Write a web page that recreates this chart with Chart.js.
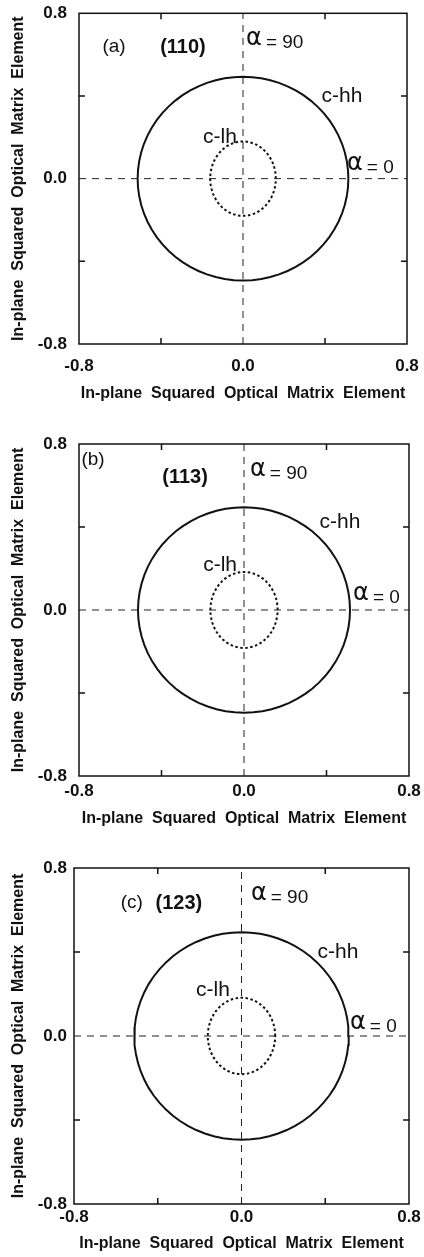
<!DOCTYPE html>
<html><head><meta charset="utf-8">
<script src="https://cdn.jsdelivr.net/npm/chart.js@4.4.0/dist/chart.umd.min.js"></script>
<style>
html,body{margin:0;padding:0;background:#fff;}
#wrap{position:relative;width:424px;height:1257px;overflow:hidden;background:#fff;}
canvas{position:absolute;left:0;}
</style></head><body>
<div id="wrap">
<canvas id="c0" width="424" height="420" style="top:0px"></canvas>
<canvas id="c1" width="424" height="420" style="top:420px"></canvas>
<canvas id="c2" width="424" height="417" style="top:840px"></canvas>
</div>
<script>
// ---------------- data ----------------
const panelLetters = ['(a)', '(b)', '(c)'];
const planeLabels = ['(110)', '(113)', '(123)'];
// semi-axes [x, y] of the c-hh (solid) and c-lh (dotted) polar curves, per panel
const hhSemiAxes = [[0.514, 0.493], [0.514, 0.495], [0.512, 0.494]];
const lhSemiAxes = [[0.160, 0.180], [0.163, 0.183], [0.161, 0.182]];
// polarisation angle samples (degrees)
const curveAnglesDeg = [0,5,10,15,20,25,30,35,40,45,50,55,60,65,70,75,80,85,90,95,100,105,110,115,120,125,130,135,140,145,150,155,160,165,170,175,180,185,190,195,200,205,210,215,220,225,230,235,240,245,250,255,260,265,270,275,280,285,290,295,300,305,310,315,320,325,330,335,340,345,350,355,360];
const axisMin = -0.8, axisMax = 0.8;
const tickValues = [-0.8, -0.4, 0, 0.4, 0.8];
const tickLabels = ['-0.8', '', '0.0', '', '0.8'];
const crossLineSpan = [-0.8, 0.8];
const axisTitle = 'In-plane  Squared  Optical  Matrix  Element';
const curveNames = ['c-hh', 'c-lh'];
const alphaValues = ['90', '0'];

// ---------------- layout / style ----------------
const FAM = "'Liberation Sans', Arial, Helvetica, sans-serif";
const layouts = [
  {h: 420, left: 79, right: 407, top: 13.3, bottom: 344, yTickPad: 12, xTickPad: 14, xTitlePad: 17},
  {h: 420, left: 79, right: 409, top: 24, bottom: 356, yTickPad: 12, xTickPad: 6.5, xTitlePad: 12},
  {h: 417, left: 74, right: 409, top: 28, bottom: 364, yTickPad: 7, xTickPad: 4.5, xTitlePad: 4}
];
// annotation anchors in data units
const annotPos = [
  {letter: [-0.629, 0.637], plane: [-0.293, 0.637], a90: [0.015, 0.671], hh: [0.483, 0.398], lh: [-0.112, 0.200], a0: [0.507, 0.067]},
  {letter: [-0.732, 0.723], plane: [-0.286, 0.639], a90: [0.029, 0.670], hh: [0.465, 0.423], lh: [-0.116, 0.215], a0: [0.529, 0.072]},
  {letter: [-0.524, 0.633], plane: [-0.299, 0.633], a90: [0.045, 0.674], hh: [0.461, 0.400], lh: [-0.136, 0.216], a0: [0.518, 0.057]}
];

function ellipsePoints(ax) {
  return curveAnglesDeg.map(d => {
    const t = d * Math.PI / 180;
    return {x: ax[0] * Math.cos(t), y: ax[1] * Math.sin(t)};
  });
}
function labelFor(v) {
  const i = tickValues.findIndex(t => Math.abs(t - v) < 1e-9);
  return i >= 0 ? tickLabels[i] : '';
}

const framePlugin = {
  id: 'frame',
  afterDatasetsDraw(chart, args, opts) {
    const {ctx, chartArea: a, scales: {x, y}} = chart;
    ctx.save();
    ctx.strokeStyle = '#111';
    ctx.lineWidth = 1.5;
    ctx.setLineDash([]);
    ctx.strokeRect(a.left, a.top, a.right - a.left, a.bottom - a.top);
    const L = 6;
    ctx.beginPath();
    tickValues.forEach(v => {
      if (Math.abs(v) < 1e-9 || Math.abs(Math.abs(v) - 0.8) < 1e-9) return;
      const px = x.getPixelForValue(v), py = y.getPixelForValue(v);
      ctx.moveTo(px, a.top); ctx.lineTo(px, a.top + L);
      ctx.moveTo(px, a.bottom); ctx.lineTo(px, a.bottom - L);
      ctx.moveTo(a.left, py); ctx.lineTo(a.left + L, py);
      ctx.moveTo(a.right, py); ctx.lineTo(a.right - L, py);
    });
    ctx.stroke();

    const p = opts.pos, k = opts.k;
    const X = v => x.getPixelForValue(v), Y = v => y.getPixelForValue(v);
    ctx.fillStyle = '#111';
    ctx.textBaseline = 'middle';
    // panel letter
    ctx.textAlign = 'center';
    ctx.font = '19px ' + FAM;
    ctx.fillText(panelLetters[k], X(p.letter[0]), Y(p.letter[1]));
    ctx.font = 'bold 20px ' + FAM;
    ctx.fillText(planeLabels[k], X(p.plane[0]), Y(p.plane[1]));
    ctx.font = '21px ' + FAM;
    ctx.fillText(curveNames[0], X(p.hh[0]), Y(p.hh[1]));
    ctx.fillText(curveNames[1], X(p.lh[0]), Y(p.lh[1]));
    // alpha labels
    [[p.a90, alphaValues[0]], [p.a0, alphaValues[1]]].forEach(([q, val]) => {
      ctx.textAlign = 'left';
      ctx.font = "24px 'DejaVu Sans', sans-serif";
      const ax = X(q[0]), ay = Y(q[1]);
      ctx.fillText('α', ax, ay - 1);
      const w = ctx.measureText('α').width;
      ctx.font = '19px ' + FAM;
      ctx.fillText('= ' + val, ax + w + 4, ay + 3);
    });
    ctx.restore();
  }
};

function makeChart(k) {
  const L = layouts[k];
  const ctx = document.getElementById('c' + k);
  const tickFont = {family: FAM, size: 17, weight: 'bold', lineHeight: 1};
  const titleFont = {family: FAM, size: 16, weight: 'bold', lineHeight: 1.2};
  new Chart(ctx, {
    type: 'scatter',
    data: {
      datasets: [
        {data: crossLineSpan.map(v => ({x: v, y: 0})), showLine: true, borderColor: '#222', borderWidth: 1, borderDash: [7, 6], pointRadius: 0},
        {data: crossLineSpan.map(v => ({x: 0, y: v})), showLine: true, borderColor: '#222', borderWidth: 1, borderDash: [7, 6], pointRadius: 0},
        {data: ellipsePoints(hhSemiAxes[k]), showLine: true, borderColor: '#111', borderWidth: 2, pointRadius: 0, tension: 0},
        {data: ellipsePoints(lhSemiAxes[k]), showLine: true, borderColor: '#111', borderWidth: 2, borderDash: [2.5, 2.5], pointRadius: 0, tension: 0}
      ]
    },
    options: {
      responsive: false,
      animation: false,
      events: [],
      layout: {padding: {left: 0, top: L.top, right: 424 - L.right, bottom: 0}},
      plugins: {legend: {display: false}, tooltip: {enabled: false}, frame: {pos: annotPos[k], k: k}},
      scales: {
        x: {
          type: 'linear', min: axisMin, max: axisMax,
          afterBuildTicks: s => { s.ticks = tickValues.map(v => ({value: v})); },
          ticks: {autoSkip: false, maxRotation: 0, minRotation: 0, padding: L.xTickPad, color: '#111', font: tickFont, callback: v => labelFor(v)},
          grid: {display: false, drawTicks: false},
          border: {display: false},
          title: {display: true, text: axisTitle, color: '#111', font: titleFont, padding: {top: 0, bottom: L.xTitlePad}},
          afterFit: s => { s.height = L.h - L.bottom; s.paddingLeft = 0; s.paddingRight = 0; }
        },
        y: {
          type: 'linear', min: axisMin, max: axisMax,
          afterBuildTicks: s => { s.ticks = tickValues.map(v => ({value: v})); },
          ticks: {autoSkip: false, padding: L.yTickPad, color: '#111', font: tickFont, callback: v => labelFor(v)},
          grid: {display: false, drawTicks: false},
          border: {display: false},
          title: {display: true, text: axisTitle, color: '#111', font: titleFont, padding: {top: 9, bottom: 0}},
          afterFit: s => { s.width = L.left; s.paddingTop = 0; s.paddingBottom = 0; }
        }
      }
    },
    plugins: [framePlugin]
  });
}
[0, 1, 2].forEach(makeChart);
</script>
</body></html>
